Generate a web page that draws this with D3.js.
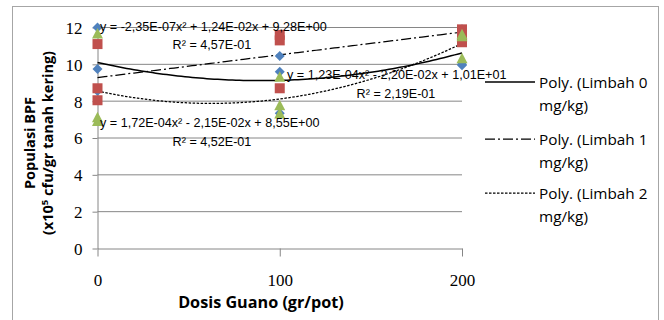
<!DOCTYPE html>
<html>
<head>
<meta charset="utf-8">
<script src="https://cdn.jsdelivr.net/npm/d3@7"></script>
<style>
  body { margin: 0; background: #fff; }
  svg { display: block; }
</style>
</head>
<body>
<div id="chart"></div>
<script>
// dosis guano (gr/pot), tiga ulangan per dosis
const doses = [0, 0, 0, 100, 100, 100, 200, 200, 200];
const limbah0 = [12.0, 9.75, 8.55, 10.45, 9.6, 7.35, 11.9, 9.95, 10.0];
const limbah1 = [11.1, 8.7, 8.05, 11.6, 11.3, 8.7, 11.9, 11.7, 11.2];
const limbah2 = [11.65, 6.9, 7.1, 9.3, 7.75, 7.3, 11.5, 11.6, 10.3];

// koefisien trendline polinomial (a, b, c) dari label persamaan
const trend0 = [1.23e-4, -2.20e-2, 10.1];
const trend1 = [-2.35e-7, 1.24e-2, 9.28];
const trend2 = [1.72e-4, -2.15e-2, 8.55];

const eqLabels = [
  "y = 1,23E-04x² - 2,20E-02x + 1,01E+01",
  "y = -2,35E-07x² + 1,24E-02x + 9,28E+00",
  "y = 1,72E-04x² - 2,15E-02x + 8,55E+00"
];
const r2Labels = ["R² = 2,19E-01", "R² = 4,57E-01", "R² = 4,52E-01"];
const legendNames = ["Poly. (Limbah 0", "Poly. (Limbah 1", "Poly. (Limbah 2"];

const xTicks = [0, 100, 200];
const yTicks = [0, 2, 4, 6, 8, 10, 12];

const width = 664, height = 320;

const svg = d3.select("#chart").append("svg")
  .attr("width", width)
  .attr("height", height);

// bingkai chart
svg.append("rect")
  .attr("x", 12.5).attr("y", 6.5)
  .attr("width", 646).attr("height", 330)
  .attr("fill", "none")
  .attr("stroke", "#a6a6a6");

const x = d3.scaleLinear().domain([0, 200]).range([97.5, 462]);
const y = d3.scaleLinear().domain([0, 12]).range([248.5, 27.5]);

// gridlines
svg.append("g")
  .selectAll("line")
  .data(yTicks.filter(d => d > 0))
  .enter().append("line")
  .attr("x1", x(0)).attr("x2", x(200))
  .attr("y1", d => y(d)).attr("y2", d => y(d))
  .attr("stroke", "#868686")
  .attr("stroke-width", 1);

// sumbu y
const yAxis = svg.append("g")
  .attr("transform", `translate(${x(0)},0)`)
  .call(d3.axisLeft(y).tickValues(yTicks).tickSize(5).tickSizeOuter(0).tickFormat(d3.format("d")));
yAxis.select(".domain").attr("stroke", "#868686");
yAxis.selectAll(".tick line").attr("stroke", "#868686");
yAxis.selectAll(".tick text")
  .attr("x", -15)
  .attr("dy", "0.35em")
  .style("font-family", "'Liberation Serif', serif")
  .style("font-size", "17px")
  .attr("fill", "#000");

// sumbu x
const xAxis = svg.append("g")
  .attr("transform", `translate(0,${y(0)})`)
  .call(d3.axisBottom(x).tickValues(xTicks).tickSize(8).tickSizeOuter(0).tickFormat(d3.format("d")));
xAxis.select(".domain").attr("stroke", "#868686");
xAxis.selectAll(".tick line").attr("stroke", "#868686");
xAxis.selectAll(".tick text")
  .attr("y", 32)
  .attr("dy", "0.35em")
  .style("font-family", "'Liberation Serif', serif")
  .style("font-size", "17px")
  .attr("fill", "#000");

// judul sumbu
svg.append("text")
  .attr("x", 261).attr("y", 308)
  .attr("text-anchor", "middle")
  .style("font-family", "'Open Sans', sans-serif")
  .style("font-weight", "bold")
  .style("font-size", "16.2px")
  .text("Dosis Guano (gr/pot)");

const yTitle = svg.append("text")
  .attr("transform", "translate(0,143) rotate(-90)")
  .attr("text-anchor", "middle")
  .style("font-family", "'Open Sans', sans-serif")
  .style("font-weight", "bold")
  .style("font-size", "14.5px");
yTitle.append("tspan").attr("x", 0).attr("y", 35).text("Populasi BPF");
const line2 = yTitle.append("tspan").attr("x", 0).attr("y", 53);
line2.append("tspan").text("(x10");
line2.append("tspan").attr("dy", -5).style("font-size", "9.5px").text("5");
line2.append("tspan").attr("dy", 5).text(" cfu/gr tanah kering)");

// trendlines
const trends = [trend0, trend1, trend2];
const dashes = [null, "10,3,2,3", "2.5,1.5"];
const samples = d3.range(0, 201, 2);
const poly = (c, v) => c[0] * v * v + c[1] * v + c[2];

trends.forEach((c, i) => {
  svg.append("path")
    .datum(samples)
    .attr("fill", "none")
    .attr("stroke", "#000")
    .attr("stroke-width", i === 0 ? 1.5 : 1.25)
    .attr("stroke-dasharray", dashes[i])
    .attr("d", d3.line().x(d => x(d)).y(d => y(poly(c, d))));
});

// titik data
const pts = (vals) => vals.map((v, i) => ({ dx: doses[i], v }));

svg.append("g").selectAll("path")
  .data(pts(limbah0))
  .enter().append("path")
  .attr("transform", d => `translate(${x(d.dx)},${y(d.v)})`)
  .attr("d", "M0,-5L5,0L0,5L-5,0Z")
  .attr("fill", "#4f81bd");

svg.append("g").selectAll("rect")
  .data(pts(limbah1))
  .enter().append("rect")
  .attr("x", d => x(d.dx) - 5)
  .attr("y", d => y(d.v) - 5)
  .attr("width", 10).attr("height", 10)
  .attr("fill", "#c0504d");

svg.append("g").selectAll("path")
  .data(pts(limbah2))
  .enter().append("path")
  .attr("transform", d => `translate(${x(d.dx)},${y(d.v)})`)
  .attr("d", "M0,-6L5.5,4.5L-5.5,4.5Z")
  .attr("fill", "#9bbb59");

// legenda (garis dulu, label persamaan menimpa)
const legendY = [82, 139, 193];
const legend = svg.append("g");
legendNames.forEach((name, i) => {
  legend.append("line")
    .attr("x1", 485).attr("x2", 535)
    .attr("y1", legendY[i]).attr("y2", legendY[i])
    .attr("stroke", "#000")
    .attr("stroke-width", i === 0 ? 1.5 : 1.25)
    .attr("stroke-dasharray", dashes[i]);
  const t = legend.append("text")
    .style("font-family", "'Open Sans', sans-serif")
    .style("font-size", "15.3px");
  t.append("tspan").attr("x", 539).attr("y", legendY[i] + 6).text(name);
  t.append("tspan").attr("x", 539).attr("y", legendY[i] + 29).text("mg/kg)");
});

// label persamaan trendline
const eqFont = "'Liberation Sans', Arial, sans-serif";
const eqPos = [
  { x: 287, y: 79, rx: 396, ry: 98 },
  { x: 100, y: 31, rx: 212, ry: 49 },
  { x: 100, y: 127, rx: 212, ry: 146 }
];
eqPos.forEach((p, i) => {
  svg.append("text")
    .attr("x", p.x).attr("y", p.y)
    .style("font-family", eqFont)
    .style("font-size", "12.6px")
    .text(eqLabels[i]);
  svg.append("text")
    .attr("x", p.rx).attr("y", p.ry)
    .attr("text-anchor", "middle")
    .style("font-family", eqFont)
    .style("font-size", "12.6px")
    .text(r2Labels[i]);
});
</script>
</body>
</html>
